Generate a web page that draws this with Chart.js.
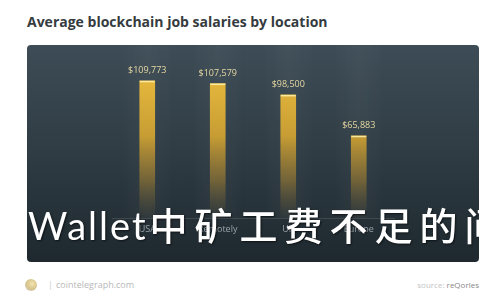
<!DOCTYPE html>
<html>
<head>
<meta charset="utf-8">
<script src="https://cdn.jsdelivr.net/npm/chart.js@4"></script>
<style>
  html, body { margin: 0; padding: 0; background: #ffffff; }
  body { width: 500px; height: 300px; position: relative; overflow: hidden; font-family: "Open Sans", "Noto Sans", sans-serif; }
  #title { position: absolute; left: 27px; top: 12px; font-size: 14px; font-weight: 700; color: #353b3e; white-space: nowrap; }
  #panel { position: absolute; left: 27px; top: 45px; width: 452px; height: 217px; border-radius: 4px; overflow: hidden;
           background: linear-gradient(180deg, #3d4c56 0%, #2f3c44 50%, #1e282e 100%); }
  #panel canvas { position: absolute; left: 0; top: 0; }
  #overlay { position: absolute; left: 1px; top: 155px; white-space: nowrap; color: #ffffff; font-size: 38px; line-height: 48px;
             font-family: "Noto Sans CJK SC", sans-serif; font-weight: 500; text-shadow: 1px 1px 2px rgba(0,0,0,0.6); }
  #overlay .lat { font-family: "Lato", "Noto Sans", sans-serif; font-weight: 400; letter-spacing: 2px; }
  #overlay .cjk { letter-spacing: 7px; margin-left: 2px; }
  #logo { position: absolute; left: 25px; top: 279px; width: 12px; height: 12px; border-radius: 50%;
          background: radial-gradient(circle at 60% 40%, #f3e4b0 0%, #d9c58c 50%, #c8c8c8 100%); }
  #sep { position: absolute; left: 48px; top: 278px; font-size: 9px; color: #cccccc; }
  #site { position: absolute; left: 56px; top: 278px; font-size: 9px; color: #b8b8b8; }
  #source { position: absolute; right: 21px; top: 279px; font-size: 8px; color: #c4c4c4; }
  #source b { font-weight: 400; color: #888888; }
</style>
</head>
<body>
<div id="title">Average blockchain job salaries by location</div>
<div id="panel">
  <canvas id="c" width="452" height="217"></canvas>
  <div id="overlay"><span class="lat">Wallet</span><span class="cjk">中矿工费不足的问题</span></div>
</div>
<div id="logo"></div>
<div id="sep">|</div>
<div id="site">cointelegraph.com</div>
<div id="source">source: <b>reQorles</b></div>
<script>
const categories = ["USA", "Remotely", "UK", "Europe"];
const salaries = [109773, 107579, 98500, 65883];
const yTicks = [0, 120000];

const columnGlow = {
  id: 'columnGlow',
  beforeDatasetsDraw(chart) {
    const { ctx, chartArea, scales } = chart;
    const x = scales.x;
    const w = (chartArea.right - chartArea.left) / categories.length;
    ctx.save();
    categories.forEach((c, i) => {
      const cx = x.getPixelForValue(i);
      const g = ctx.createLinearGradient(cx - w * 0.4, 0, cx + w * 0.4, 0);
      g.addColorStop(0, 'rgba(255,255,255,0)');
      g.addColorStop(0.5, 'rgba(255,255,255,0.035)');
      g.addColorStop(1, 'rgba(255,255,255,0)');
      ctx.fillStyle = g;
      ctx.fillRect(cx - w * 0.4, 0, w * 0.8, chartArea.bottom);
    });
    ctx.restore();
  }
};

const valueLabels = {
  id: 'valueLabels',
  afterDatasetsDraw(chart) {
    const { ctx } = chart;
    const meta = chart.getDatasetMeta(0);
    ctx.save();
    ctx.font = '9px "Open Sans", "Noto Sans", sans-serif';
    ctx.textAlign = 'center';
    ctx.textBaseline = 'middle';
    meta.data.forEach((bar, i) => {
      ctx.fillStyle = '#e6d8a2';
      ctx.fillText('$' + salaries[i].toLocaleString('en-US'), bar.x, bar.y - 10);
      ctx.fillStyle = 'rgba(255,240,170,0.9)';
      ctx.fillRect(bar.x - bar.width / 2, bar.y, bar.width, 1.5);
    });
    ctx.restore();
  }
};

new Chart(document.getElementById('c'), {
  type: 'bar',
  data: {
    labels: categories,
    datasets: [{
      data: salaries,
      backgroundColor(ctx) {
        const area = ctx.chart.chartArea;
        if (!area) return '#d4a733';
        const g = ctx.chart.ctx.createLinearGradient(0, area.top, 0, area.bottom);
        g.addColorStop(0, 'rgba(236,190,62,1)');
        g.addColorStop(0.45, 'rgba(212,165,50,0.92)');
        g.addColorStop(0.75, 'rgba(180,138,45,0.5)');
        g.addColorStop(1, 'rgba(120,100,50,0.05)');
        return g;
      },
      borderWidth: 0,
      barThickness: 15
    }]
  },
  options: {
    responsive: false,
    animation: false,
    devicePixelRatio: 1,
    layout: { padding: { left: 85, right: 85, top: 23, bottom: 21 } },
    plugins: { legend: { display: false }, tooltip: { enabled: false } },
    scales: {
      x: {
        grid: { display: false, drawTicks: false },
        border: { display: true, color: 'rgba(255,255,255,0.12)' },
        ticks: { color: '#9aa3a8', font: { size: 9, family: '"Open Sans", "Noto Sans", sans-serif' }, padding: 6 }
      },
      y: {
        display: false,
        min: yTicks[0],
        max: yTicks[1]
      }
    }
  },
  plugins: [columnGlow, valueLabels]
});
</script>
</body>
</html>
